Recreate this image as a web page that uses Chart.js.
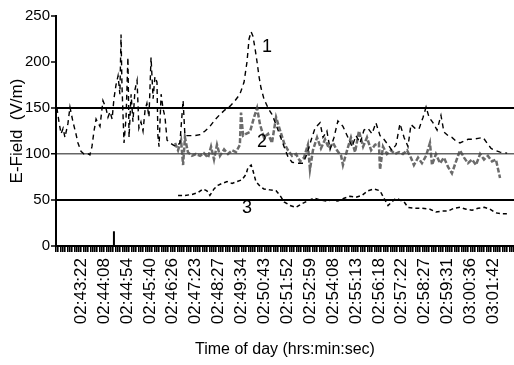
<!DOCTYPE html>
<html>
<head>
<meta charset="utf-8">
<script src="https://cdn.jsdelivr.net/npm/chart.js@4"></script>
<style>
  body { margin: 0; background: #fff; }
  #wrap { width: 514px; height: 365px; }
</style>
</head>
<body>
<div id="wrap"><canvas id="myChart"></canvas></div>
<script>
// sample index on the x axis, one tick per sample, a label every 10 samples
var timeLabels = ['02:43:22', '02:44:08', '02:44:54', '02:45:40', '02:46:26', '02:47:23',
  '02:48:27', '02:49:34', '02:50:43', '02:51:52', '02:52:59', '02:54:08', '02:55:13',
  '02:56:18', '02:57:22', '02:58:27', '02:59:31', '03:00:36', '03:01:42'];
var firstLabelSample = 11;

// curve 1
var s1x = [0.4, 1.3, 2.2, 3.1, 3.9, 5.2, 6.1, 7.4, 8.7, 9.6, 10.9, 12.2, 13.5, 14.8, 15.7, 16.6, 17.5, 18.3, 19.2, 20.5,
  21.8, 22.7, 23.6, 24.5, 25.3, 26.2, 27.1, 27.9, 28.4, 28.8, 29.7, 30.6, 31.4, 31.9, 32.8, 33.6, 34.5, 35.4, 36.2, 37.1,
  38.0, 38.9, 39.7, 40.6, 41.5, 42.4, 43.2, 44.1, 44.5, 45.0, 45.9, 46.7, 47.6, 48.5, 49.8, 51.1, 52.4, 54.1, 55.5, 56.3,
  58.5, 60.7, 62.9, 65.1, 67.2, 69.4, 71.6, 73.8, 76.0, 78.2, 80.3, 82.1, 83.4, 84.3, 85.2, 86.0, 86.9, 87.8, 88.6, 89.5,
  90.8, 92.6, 94.3, 96.1, 97.8, 99.6, 101.3, 103.1, 105.2, 107.9, 109.6, 111.4, 113.1, 115.3, 116.6, 118.3, 119.7, 121.4,
  123.1, 125.3, 127.5, 129.3, 131.0, 132.8, 134.5, 136.2, 138.0, 139.7, 141.5, 143.2, 145.0, 146.7, 148.5, 150.2, 152.0,
  153.7, 155.0, 156.8, 158.5, 160.3, 161.6, 162.9, 164.6, 166.4, 168.1, 169.4, 171.2, 172.9, 174.7, 176.4, 178.2, 179.9,
  182.1, 184.3, 186.5, 188.2, 190.0, 191.7, 193.9, 197.0];
var s1y = [150, 135, 122, 128, 118, 133, 151, 135, 122, 112, 103, 100, 101, 99, 108, 125, 138, 134, 130, 158,
  150, 140, 146, 138, 160, 175, 185, 165, 230, 175, 112, 140, 205, 118, 165, 135, 170, 180, 128, 135,
  125, 148, 155, 140, 205, 160, 184, 178, 120, 108, 165, 150, 140, 115, 112, 110, 108, 112, 158, 120,
  120, 120, 121, 125, 130, 137, 143, 148, 152, 158, 165, 178, 200, 225, 233, 228, 215, 200, 185, 172,
  160, 150, 143, 132, 120, 108, 97, 91, 90, 90, 100, 115, 128, 134, 118, 125, 105, 118,
  136, 130, 118, 108, 120, 112, 126, 128, 122, 134, 120, 116, 110, 104, 110, 133, 118,
  108, 132, 128, 127, 140, 151, 140, 134, 126, 142, 124, 120, 118, 114, 112, 114, 116,
  116, 117, 118, 112, 106, 104, 102, 101];

// curve 2
var s2x = [52.0, 53.3, 54.6, 55.5, 56.3, 57.6, 59.4, 61.1, 62.9, 64.6, 66.4, 67.7, 69.0, 70.3, 71.6, 73.4, 75.1, 76.9, 78.6,
  80.3, 80.8, 81.7, 83.0, 84.7, 86.5, 87.8, 89.1, 90.8, 92.6, 94.3, 96.1, 97.8, 99.6, 101.3, 103.1, 104.8, 106.6, 108.3,
  110.0, 110.9, 112.2, 114.0, 115.7, 117.5, 119.2, 121.0, 122.7, 124.5, 125.3, 127.1, 128.8, 130.6, 132.3, 134.1, 135.8,
  137.6, 139.3, 141.0, 141.5, 142.8, 144.5, 146.3, 148.0, 149.8, 151.5, 153.3, 155.0, 156.3, 158.1, 159.8, 161.6, 163.3,
  164.2, 165.9, 167.7, 169.4, 171.2, 172.9, 174.7, 176.4, 178.2, 179.9, 181.7, 183.4, 185.2, 186.9, 188.6, 190.4, 192.1,
  193.0, 193.9];
var s2y = [112, 104, 115, 88, 118, 102, 98, 100, 98, 101, 96, 108, 94, 110, 98, 105, 100, 104, 102,
  110, 145, 120, 122, 124, 140, 150, 132, 118, 122, 112, 140, 126, 112, 104, 98, 100, 92, 96,
  110, 83, 104, 118, 106, 116, 106, 112, 104, 98, 88, 104, 118, 102, 125, 108, 118,
  104, 110, 112, 83, 108, 100, 104, 100, 102, 100, 104, 96, 88, 96, 90, 98, 112,
  88, 100, 90, 96, 86, 79, 92, 104, 96, 90, 94, 88, 100, 94, 98, 92, 94,
  84, 74];

// curve 3
var s3x = [53.3, 56.3, 59.4, 62.0, 64.2, 65.9, 67.2, 69.0, 70.7, 72.5, 74.7, 76.9, 79.0, 81.2, 83.0, 83.8, 85.2, 86.0,
  87.3, 89.1, 90.8, 93.4, 96.1, 97.8, 99.6, 102.2, 104.8, 107.4, 110.0, 112.7, 115.3, 117.9, 120.5, 123.1, 125.8, 128.4,
  131.0, 133.6, 136.2, 138.9, 141.5, 143.2, 145.0, 146.7, 148.5, 150.2, 152.0, 153.7, 156.8, 159.8, 163.3, 165.9, 168.6,
  171.2, 173.8, 176.4, 179.1, 181.7, 184.3, 187.0, 189.5, 192.1, 194.8, 197.4];
var s3y = [55, 55, 56, 58, 62, 60, 55, 62, 66, 68, 70, 68, 70, 72, 78, 85, 88, 82,
  70, 65, 62, 61, 60, 55, 48, 44, 42, 46, 49, 52, 50, 49, 50, 49, 52, 54,
  53, 55, 60, 62, 60, 52, 44, 48, 52, 50, 48, 42, 41, 41, 40, 37, 38,
  38, 41, 42, 40, 39, 41, 42, 40, 36, 35, 35];

// short spike near the axis
var spikeX = [25.3, 25.3];
var spikeY = [0, 16];

// curve numbers, placed in data units
var curveNames = ['1', '2', '3'];
var curveNameX = [92.1, 90.0, 83.4];
var curveNameY = [216, 113, 41];

function pts(xs, ys) {
  return xs.map(function (x, i) { return { x: x, y: ys[i] }; });
}

var font = 'Liberation Sans, Arial, sans-serif';

var curveNumbers = {
  id: 'curveNumbers',
  afterDatasetsDraw: function (chart) {
    var c = chart.ctx, xs = chart.scales.x, ys = chart.scales.y;
    c.save();
    c.fillStyle = '#000';
    c.font = '18px ' + font;
    c.textAlign = 'center';
    c.textBaseline = 'middle';
    for (var i = 0; i < curveNames.length; i++) {
      c.fillText(curveNames[i], xs.getPixelForValue(curveNameX[i]), ys.getPixelForValue(curveNameY[i]));
    }
    c.restore();
  }
};

var ctx = document.getElementById('myChart').getContext('2d');
var myChart = new Chart(ctx, {
  type: 'line',
  data: {
    datasets: [{
      data: pts(s1x, s1y),
      borderColor: '#000',
      borderWidth: 1.4,
      borderDash: [5, 4]
    }, {
      data: pts(s2x, s2y),
      borderColor: 'rgba(70,70,70,0.8)',
      borderWidth: 2.5,
      borderDash: [5, 2]
    }, {
      data: pts(s3x, s3y),
      borderColor: '#000',
      borderWidth: 1.5,
      borderDash: [4, 3]
    }, {
      data: pts(spikeX, spikeY),
      borderColor: '#000',
      borderWidth: 2
    }]
  },
  options: {
    responsive: true,
    maintainAspectRatio: false,
    animation: false,
    layout: { padding: { top: 16, right: 0, left: 0, bottom: 0 } },
    elements: { point: { radius: 0 }, line: { tension: 0 } },
    plugins: { legend: { display: false }, tooltip: { enabled: false } },
    scales: {
      x: {
        type: 'linear',
        min: 0,
        max: 200,
        afterBuildTicks: function (scale) {
          var t = [];
          for (var i = 0; i <= 200; i++) t.push({ value: i });
          scale.ticks = t;
        },
        afterFit: function (scale) {
          scale.height = 119;
          scale.paddingLeft = 0;
          scale.paddingRight = 0;
        },
        ticks: {
          autoSkip: false,
          minRotation: 90,
          maxRotation: 90,
          padding: 6,
          color: '#000',
          font: { family: font, size: 17 },
          callback: function (v) {
            var k = (v - firstLabelSample) / 10;
            return (k >= 0 && k < timeLabels.length && k === Math.round(k)) ? timeLabels[k] : '';
          }
        },
        grid: {
          drawOnChartArea: false,
          drawTicks: true,
          tickLength: 6,
          color: '#000',
          lineWidth: 1.6
        },
        border: { color: '#000', width: 2 },
        title: {
          display: true,
          text: 'Time of day (hrs:min:sec)',
          color: '#000',
          font: { family: font, size: 16 },
          padding: { top: 4, bottom: 6 }
        }
      },
      y: {
        min: 0,
        max: 250,
        afterFit: function (scale) {
          scale.width = 56;
          scale.paddingTop = 0;
          scale.paddingBottom = 0;
        },
        ticks: {
          stepSize: 50,
          padding: 1,
          color: '#000',
          font: { family: font, size: 15 }
        },
        grid: {
          tickLength: 5,
          tickColor: '#000',
          tickWidth: 1.5,
          color: function (c) {
            var v = c.tick ? c.tick.value : null;
            if (v === 50 || v === 150) return '#000';
            if (v === 100) return '#666';
            return 'rgba(0,0,0,0)';
          },
          lineWidth: function (c) {
            var v = c.tick ? c.tick.value : null;
            return v === 100 ? 1.5 : 2;
          }
        },
        border: { color: '#000', width: 2 },
        title: {
          display: true,
          text: 'E-Field  (V/m)',
          color: '#000',
          font: { family: font, size: 17 },
          padding: { top: 7, bottom: 4 }
        }
      }
    }
  },
  plugins: [curveNumbers]
});
</script>
</body>
</html>
